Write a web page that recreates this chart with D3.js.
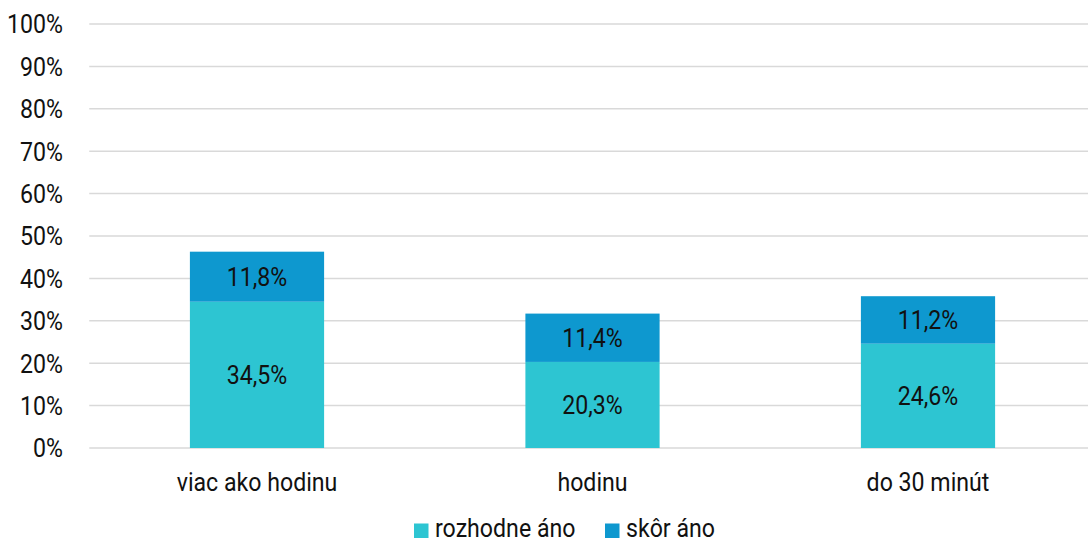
<!DOCTYPE html>
<html><head><meta charset="utf-8">
<script src="https://cdn.jsdelivr.net/npm/d3@7"></script>
<style>body{margin:0;background:#fff}svg{display:block}text{font-family:Roboto,sans-serif;fill:#111}</style>
</head><body><svg id="c" width="1088" height="540"></svg>
<script>
const categories = ["viac ako hodinu", "hodinu", "do 30 minút"];
const seriesNames = ["rozhodne áno", "skôr áno"];
const rozhodneAno = [34.5, 20.3, 24.6];
const skorAno = [11.8, 11.4, 11.2];
const yTicks = [0,10,20,30,40,50,60,70,80,90,100];
const colors = ["#2DC5D2", "#0E98CF"];

(function(){
const svg = d3.select("#c");
const SX = 0.89, FS = 26;
const pLeft = 89.25, pRight = 1095.75, pTop = 24, pBottom = 448;
const x = d3.scaleBand().domain(categories).range([pLeft, pRight]).padding(0);
const y = d3.scaleLinear().domain([0, 100]).range([pBottom, pTop]);
const barW = x.bandwidth() * 0.4;

function txt(g, xx, yy, s, anchor, size) {
  return g.append("text").attr("transform", `translate(${xx},${yy}) scale(${SX},1)`)
    .attr("text-anchor", anchor).attr("font-size", size || FS).text(s);
}

svg.append("g").selectAll("line").data(yTicks).join("line")
  .attr("x1", pLeft).attr("x2", pRight).attr("y1", d => y(d)).attr("y2", d => y(d))
  .attr("stroke", "#d9d9d9").attr("stroke-width", 1.5);
const yl = svg.append("g");
yTicks.forEach(t => txt(yl, 63, y(t) + 9.3, t + "%", "end"));

const stack = d3.stack().keys([0, 1])(categories.map((c, i) => ({0: rozhodneAno[i], 1: skorAno[i], cat: c})));
const fmt = v => v.toFixed(1).replace(".", ",") + "%";
stack.forEach((layer, k) => {
  const g = svg.append("g");
  layer.forEach(d => {
    const cx = x(d.data.cat) + x.bandwidth() / 2;
    g.append("rect").attr("x", cx - barW / 2).attr("width", barW)
      .attr("y", y(d[1])).attr("height", y(d[0]) - y(d[1])).attr("fill", colors[k]);
    txt(g, cx, (y(d[0]) + y(d[1])) / 2 + 9.3, fmt(d[1] - d[0]), "middle");
  });
});
const xl = svg.append("g");
categories.forEach(c => txt(xl, x(c) + x.bandwidth() / 2, 491, c, "middle"));

const legX = [414, 605];
const lg = svg.append("g");
seriesNames.forEach((s, i) => {
  lg.append("rect").attr("x", legX[i]).attr("y", 523.5).attr("width", 14.5).attr("height", 14.5).attr("fill", colors[i]);
  txt(lg, legX[i] + 21, 537, s, "start");
});
})();
</script></body></html>
